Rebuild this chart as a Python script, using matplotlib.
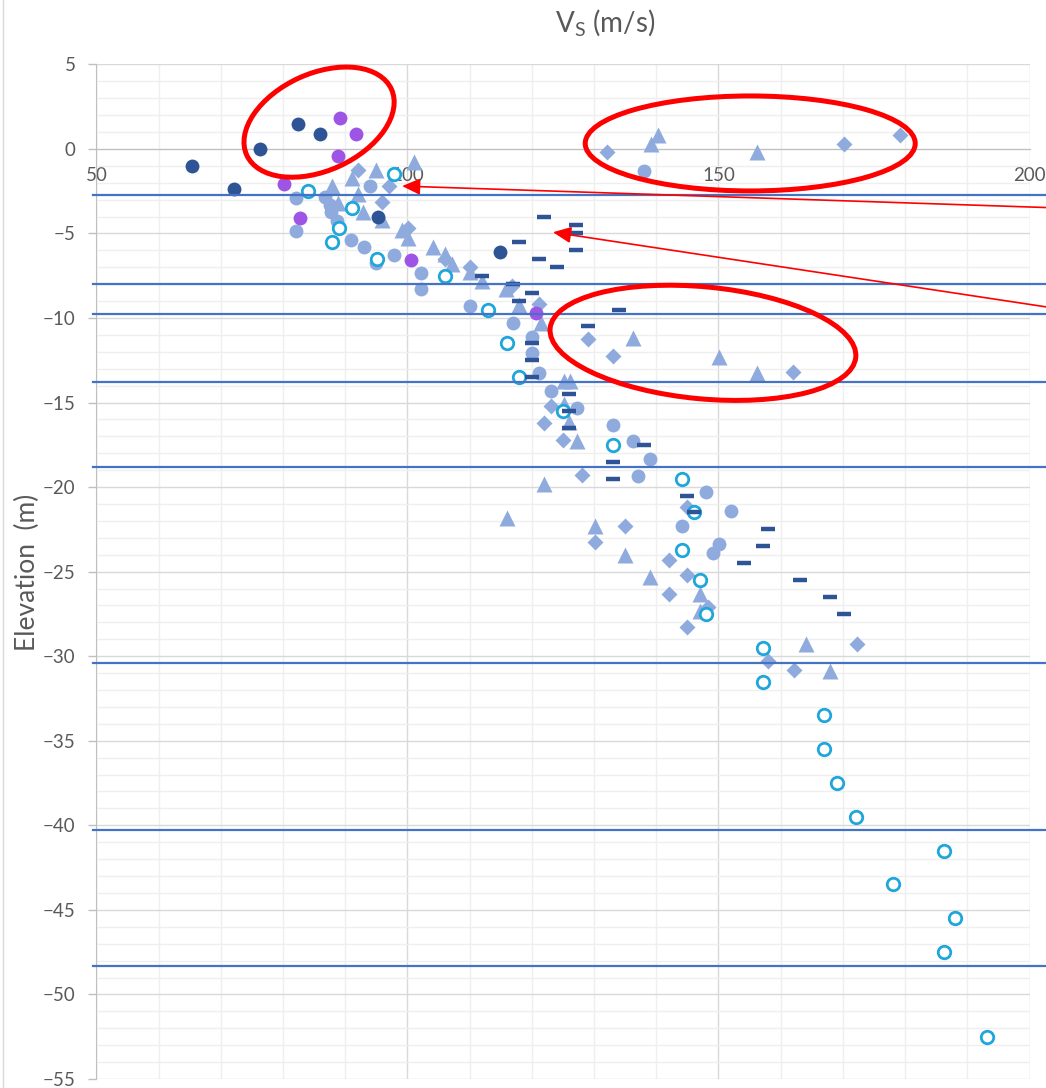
import matplotlib
matplotlib.use("Agg")
import matplotlib.pyplot as plt
from matplotlib.patches import Ellipse
from matplotlib.transforms import ScaledTranslation
from matplotlib.lines import Line2D
from matplotlib.ticker import MultipleLocator

plt.rcParams["font.family"] = ["Lato", "DejaVu Sans"]
plt.rcParams["mathtext.fontset"] = "custom"
plt.rcParams["mathtext.rm"] = "Lato"

# shear-wave velocity (m/s) against elevation (m), one pair of lists per test series
vs_circ = [82.1, 82.1, 86.8, 87.6, 87.7, 88.7, 94.0, 91.0, 93.1, 95.0, 97.9, 102.2,
           102.2, 110.1, 117.0, 120.0, 120.0, 121.1, 123.1, 127.2, 133.1, 136.2,
           139.0, 137.0, 148.0, 152.0, 144.1, 150.1, 149.1, 138.1]
z_circ = [-2.9, -4.85, -2.85, -3.3, -3.75, -4.25, -2.2, -5.4, -5.8, -6.75, -6.3, -7.35,
          -8.3, -9.3, -10.3, -11.1, -12.1, -13.25, -14.3, -15.3, -16.35, -17.3,
          -18.35, -19.35, -20.3, -21.4, -22.3, -23.35, -23.9, -1.3]

vs_tri = [139.1, 140.2, 156.2, 101.1, 95.0, 91.1, 87.9, 92.0, 88.8, 92.8, 95.9, 99.2,
          100.1, 104.1, 106.1, 107.1, 110.1, 112.0, 115.9, 118.0, 121.4, 136.2, 150.1,
          156.2, 125.1, 126.1, 125.1, 125.9, 127.2, 122.0, 116.0, 130.1, 135.0, 139.0,
          147.1, 147.1, 164.1, 168.0]
z_tri = [0.3, 0.8, -0.2, -0.75, -1.25, -1.75, -2.2, -2.65, -3.2, -3.75, -4.2, -4.8,
         -5.3, -5.8, -6.2, -6.8, -7.3, -7.8, -8.3, -9.25, -10.3, -11.2, -12.3,
         -13.25, -13.7, -13.7, -15.1, -16.15, -17.25, -19.8, -21.8, -22.3, -24.0, -25.3,
         -26.3, -27.3, -29.3, -30.9]

vs_dia = [132.0, 170.2, 179.2, 92.0, 97.0, 95.9, 100.1, 106.0, 110.1, 116.8, 121.2,
          129.0, 133.1, 162.0, 123.1, 122.0, 125.0, 128.0, 135.0, 130.1, 142.0, 145.0,
          142.0, 145.0, 145.0, 148.3, 172.2, 158.0, 162.1]
z_dia = [-0.2, 0.3, 0.8, -1.25, -2.2, -3.15, -4.7, -6.5, -7.0, -8.1, -9.15,
         -11.25, -12.25, -13.2, -15.2, -16.2, -17.2, -19.3, -22.3, -23.25, -24.3, -25.2,
         -26.3, -28.3, -21.2, -27.1, -29.3, -30.3, -30.8]

vs_open = [97.9, 84.1, 91.1, 89.0, 87.9, 95.1, 106.0, 112.9, 116.0, 118.0, 125.0,
           133.1, 144.1, 146.1, 144.1, 147.1, 148.0, 157.1, 157.1, 167.0, 167.0,
           169.1, 172.1, 186.2, 178.0, 188.0, 186.2, 193.1]
z_open = [-1.5, -2.5, -3.5, -4.7, -5.5, -6.5, -7.5, -9.5, -11.5, -13.5, -15.5,
          -17.5, -19.5, -21.5, -23.7, -25.5, -27.5, -29.5, -31.5, -33.5, -35.5,
          -37.5, -39.5, -41.5, -43.5, -45.5, -47.5, -52.5]

vs_dash = [122.0, 127.1, 127.1, 118.0, 127.1, 121.1, 124.0, 112.0, 117.0, 120.1, 118.0,
           134.0, 129.0, 120.1, 120.1, 120.1, 125.9, 125.9, 125.9, 138.0, 133.1, 133.1,
           145.0, 146.1, 158.0, 157.1, 154.1, 163.1, 168.0, 170.1]
z_dash = [-4.0, -4.5, -5.0, -5.5, -6.0, -6.5, -7.0, -7.5, -8.0, -8.5, -9.0,
          -9.5, -10.5, -11.5, -12.5, -13.5, -14.5, -15.5, -16.5, -17.5, -18.5, -19.5,
          -20.5, -21.5, -22.5, -23.5, -24.5, -25.5, -26.5, -27.5]

vs_dark = [65.4, 72.2, 76.3, 82.4, 86.0, 95.2, 114.9]
z_dark = [-1.0, -2.35, 0.0, 1.45, 0.85, -4.0, -6.1]

vs_purple = [89.2, 91.7, 88.8, 80.1, 82.7, 100.6, 120.7]
z_purple = [1.8, 0.85, -0.45, -2.05, -4.1, -6.55, -9.7]

# layer boundaries (m)
layer_tops = [-2.7, -8.0, -9.75, -13.8, -18.8, -30.4, -40.3, -48.3]

LIGHT = "#8FAADC"
DARK = "#2F5496"
PURPLE = "#9E55E6"
CYAN = "#1FA6DA"
BLUE = "#4472C4"
RED = "#FF0000"
GREY = "#595959"

fig = plt.figure(figsize=(10.46, 10.88), dpi=100)
ax = fig.add_axes([0.0921, 0.0083, 0.8922, 0.9326])

ax.plot(vs_circ, z_circ, "o", ms=10, color=LIGHT, mec="none", zorder=3)
ax.plot(vs_tri, z_tri, "^", ms=11, color=LIGHT, mec="none", zorder=3)
ax.plot(vs_dia, z_dia, "D", ms=8, color=LIGHT, mec="none", zorder=3)
ax.plot(vs_open, z_open, "o", ms=9, mfc="white", mec=CYAN, mew=2, zorder=4)
ax.plot(vs_dash, z_dash, "_", ms=10, mew=3.2, color=DARK, zorder=5)
ax.plot(vs_dark, z_dark, "o", ms=10, color=DARK, mec="none", zorder=5)
ax.plot(vs_purple, z_purple, "o", ms=10, color=PURPLE, mec="none", zorder=5)

for z in layer_tops:
    ax.axhline(z, xmin=-0.0035, xmax=1.03, color=BLUE, lw=1.6, clip_on=False, zorder=6)

ax.set_xlim(50, 200)
ax.set_ylim(-55, 5)
ax.xaxis.set_major_locator(MultipleLocator(50))
ax.xaxis.set_minor_locator(MultipleLocator(10))
ax.yaxis.set_major_locator(MultipleLocator(5))
ax.yaxis.set_minor_locator(MultipleLocator(1))
ax.grid(which="major", color="#D9D9D9", lw=1, zorder=0)
ax.grid(which="minor", color="#EFEFEF", lw=1, zorder=0)
ax.set_axisbelow(True)

for side in ("top", "right"):
    ax.spines[side].set_visible(False)
ax.spines["left"].set_color("#BFBFBF")
ax.spines["bottom"].set_position(("data", 0))
ax.spines["bottom"].set_color("#BFBFBF")
ax.tick_params(axis="x", which="both", length=0, pad=13, labelsize=13.5, labelcolor=GREY)
ax.tick_params(axis="y", which="major", length=6, width=1, color="#BFBFBF",
               pad=9, labelsize=13.5, labelcolor=GREY)
ax.tick_params(axis="y", which="minor", length=0)

fig.text(605 / 1046, 1 - 23 / 1088, r"V$_{\mathrm{S}}$ (m/s)", ha="center", va="center",
         fontsize=20, color=GREY)
fig.text(27 / 1046, 1 - 572 / 1088, "Elevation  (m)", rotation=90, ha="center",
         va="center", fontsize=19, color=GREY)

# chart-area border on the left
fig.add_artist(Line2D([3 / 1046, 3 / 1046], [0, 1], transform=fig.transFigure,
                      color="#D9D9D9", lw=1))


def ring(vs, z, w, h, angle):
    # ellipse sized in inches, centred on a data point
    tr = fig.dpi_scale_trans + ScaledTranslation(vs, z, ax.transData)
    ax.add_patch(Ellipse((0, 0), w, h, angle=angle, transform=tr, fill=False,
                         ec=RED, lw=3.6, clip_on=False, zorder=8))


ring(85.8, 1.58, 1.59, 0.97, 24.5)
ring(155.1, 0.32, 3.30, 0.95, 0)
ring(147.5, -11.47, 3.07, 1.12, -5.4)

arrow = dict(arrowstyle="-|>,head_length=1.1,head_width=0.5", color=RED, lw=1.2,
             shrinkA=0, shrinkB=0, mutation_scale=10)
ax.annotate("", xy=(99.15, -2.2), xytext=(1060, 880), textcoords="figure pixels",
            arrowprops=arrow, annotation_clip=False, zorder=9)
ax.annotate("", xy=(123.4, -4.93), xytext=(1060, 779), textcoords="figure pixels",
            arrowprops=arrow, annotation_clip=False, zorder=9)

fig.savefig("out.png", dpi=100)
